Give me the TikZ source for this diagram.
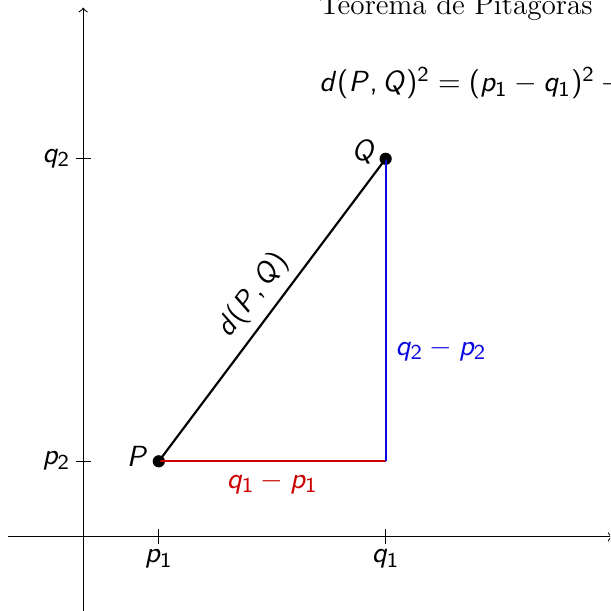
\documentclass[tikz,border=0pt]{standalone}
\DeclareSymbolFont{operators}{OT1}{cmss}{m}{n}
\DeclareSymbolFont{letters}{OT1}{cmss}{m}{sl}
\AtBeginDocument{\mathcode`,="602C}
\definecolor{myred}{RGB}{204,0,0}
\definecolor{myblue}{RGB}{10,10,225}
\tikzset{
  every node/.style={font=\fontsize{11}{13}\selectfont},
  axis/.style={->, line width=0.4pt},
  tick/.style={line width=0.4pt},
  ticklabel/.style={inner sep=1.8pt},
  dot/.style={circle, fill=black, inner sep=0pt, minimum size=4.6pt},
  side/.style={line width=0.8pt},
}
\begin{document}
\begin{tikzpicture}
\useasboundingbox (-1.1,-0.98) rectangle (6.97,7.1);
\clip (-1.1,-0.98) rectangle (6.97,7.1);
% axes
\coordinate (xs) at (-1,0);
\coordinate (xe) at (7,0);
\coordinate (ys) at (0,-1);
\coordinate (ye) at (0,7);
\draw[axis] (xs) -- (xe);
\draw[axis] (ys) -- (ye);
% ticks
\coordinate (t1a) at (1,0.1);  \coordinate (t1b) at (1,-0.1);
\coordinate (t2a) at (4,0.1);  \coordinate (t2b) at (4,-0.1);
\coordinate (t3a) at (0.1,1);  \coordinate (t3b) at (-0.1,1);
\coordinate (t4a) at (0.1,5);  \coordinate (t4b) at (-0.1,5);
\draw[tick] (t1a) -- (t1b) node[below, ticklabel] (lp1) {$p_1$};
\draw[tick] (t2a) -- (t2b) node[below, ticklabel] (lq1) {$q_1$};
\draw[tick] (t3a) -- (t3b) node[left, ticklabel] (lp2) {$p_2$};
\draw[tick] (t4a) -- (t4b) node[left, ticklabel] (lq2) {$q_2$};
% triangle
\node[dot] (P) at (1,1) {};
\node[dot] (Q) at (4,5) {};
\coordinate (R) at (4,1);
\draw[side, myred] (P.center) -- node[below] (lqp1) {$q_1-p_1$} (R);
\draw[side, myblue] (R) -- node[pos=0.37, right] (lqp2) {$q_2-p_2$} (Q.center);
\draw[side] (P.center) -- node[midway, above, sloped] (ld) {$d(P,Q)$} (Q.center);
\node[anchor=east] (lP) at (0.98,1.07) {$P$};
\node[anchor=east] (lQ) at (3.99,5.09) {$Q$};
% text
\node[right] (title) at (3,7) {Teorema de Pitágoras};
\node[right] (formula) at (3,6) {$d(P,Q)^2=(p_1-q_1)^2+(p_2-q_2)^2$};
\end{tikzpicture}
\end{document}
